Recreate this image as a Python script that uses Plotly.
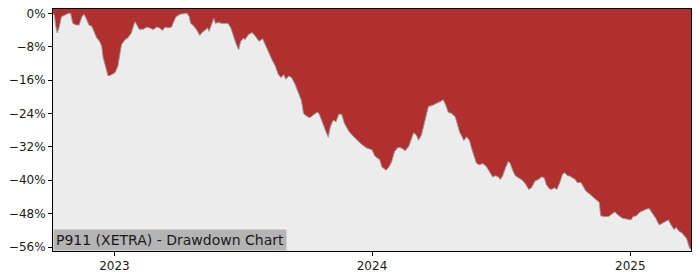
import plotly.graph_objects as go

DATES = [
    "2022-10-06", "2022-10-08", "2022-10-10", "2022-10-12", "2022-10-15", "2022-10-18", "2022-10-23",
    "2022-10-28", "2022-10-31", "2022-11-03", "2022-11-08", "2022-11-12", "2022-11-16", "2022-11-19",
    "2022-11-23", "2022-11-26", "2022-11-30", "2022-12-03", "2022-12-07", "2022-12-11", "2022-12-14",
    "2022-12-16", "2022-12-20", "2022-12-23", "2022-12-27", "2023-01-02", "2023-01-06", "2023-01-09",
    "2023-01-11", "2023-01-16", "2023-01-20", "2023-01-25", "2023-01-30", "2023-02-02", "2023-02-05",
    "2023-02-11", "2023-02-16", "2023-02-20", "2023-02-25", "2023-03-02", "2023-03-06", "2023-03-10",
    "2023-03-14", "2023-03-18", "2023-03-23", "2023-03-25", "2023-03-29", "2023-04-04", "2023-04-11",
    "2023-04-14", "2023-04-17", "2023-04-19", "2023-04-22", "2023-04-27", "2023-05-02", "2023-05-05",
    "2023-05-09", "2023-05-13", "2023-05-15", "2023-05-19", "2023-05-22", "2023-05-24", "2023-05-28",
    "2023-06-02", "2023-06-07", "2023-06-11", "2023-06-15", "2023-06-18", "2023-06-22", "2023-06-26",
    "2023-06-29", "2023-07-03", "2023-07-05", "2023-07-10", "2023-07-15", "2023-07-19", "2023-07-25",
    "2023-07-30", "2023-08-02", "2023-08-07", "2023-08-12", "2023-08-17", "2023-08-21", "2023-08-25",
    "2023-08-29", "2023-09-01", "2023-09-05", "2023-09-09", "2023-09-14", "2023-09-19", "2023-09-23",
    "2023-09-26", "2023-10-01", "2023-10-05", "2023-10-10", "2023-10-15", "2023-10-18", "2023-10-22",
    "2023-10-27", "2023-10-31", "2023-11-03", "2023-11-07", "2023-11-11", "2023-11-15", "2023-11-19",
    "2023-11-23", "2023-11-29", "2023-12-04", "2023-12-11", "2023-12-18", "2023-12-25", "2024-01-01",
    "2024-01-05", "2024-01-09", "2024-01-12", "2024-01-15", "2024-01-21", "2024-01-25", "2024-01-29",
    "2024-02-02", "2024-02-07", "2024-02-12", "2024-02-17", "2024-02-22", "2024-02-26", "2024-02-29",
    "2024-03-04", "2024-03-07", "2024-03-11", "2024-03-15", "2024-03-18", "2024-03-21", "2024-03-26",
    "2024-03-30", "2024-04-04", "2024-04-07", "2024-04-11", "2024-04-14", "2024-04-18", "2024-04-23",
    "2024-04-28", "2024-05-01", "2024-05-04", "2024-05-08", "2024-05-10", "2024-05-14", "2024-05-18",
    "2024-05-21", "2024-05-25", "2024-05-28", "2024-06-01", "2024-06-06", "2024-06-11", "2024-06-14",
    "2024-06-17", "2024-06-20", "2024-06-24", "2024-06-28", "2024-07-01", "2024-07-04", "2024-07-08",
    "2024-07-12", "2024-07-15", "2024-07-18", "2024-07-22", "2024-07-27", "2024-08-01", "2024-08-06",
    "2024-08-10", "2024-08-14", "2024-08-19", "2024-08-24", "2024-08-28", "2024-09-01", "2024-09-04",
    "2024-09-08", "2024-09-11", "2024-09-16", "2024-09-19", "2024-09-23", "2024-09-27", "2024-09-30",
    "2024-10-04", "2024-10-07", "2024-10-11", "2024-10-15", "2024-10-18", "2024-10-23", "2024-10-26",
    "2024-10-30", "2024-11-03", "2024-11-09", "2024-11-14", "2024-11-18", "2024-11-20", "2024-11-25",
    "2024-12-01", "2024-12-06", "2024-12-10", "2024-12-15", "2024-12-21", "2024-12-27", "2025-01-02",
    "2025-01-05", "2025-01-10", "2025-01-14", "2025-01-19", "2025-01-24", "2025-01-28", "2025-02-01",
    "2025-02-06", "2025-02-11", "2025-02-16", "2025-02-20", "2025-02-24", "2025-02-27", "2025-03-04",
    "2025-03-07", "2025-03-11", "2025-03-15", "2025-03-18", "2025-03-22", "2025-03-24", "2025-03-26",
    "2025-03-28",
]

DRAWDOWN_PCT = [
    0, -0.5, -3.1, -4.7, -3.1, -0.8, -0.4,
    0, 0, -2.4, -2.8, -2.8, -0.8, -0.2,
    -1.6, -2.8, -3.1, -4.3, -5.9, -6.7, -7.9,
    -10.6, -13.0, -15.0, -14.8, -14.2, -12.6, -9.5,
    -7.5, -6.3, -5.9, -4.7, -2.0, -2.8, -3.8,
    -3.8, -3.3, -3.5, -3.9, -3.3, -3.5, -4.1,
    -3.3, -3.5, -3.3, -2.4, -0.9, -0.2, 0,
    0, -0.8, -2.4, -2.8, -3.8, -5.3, -4.6,
    -4.1, -3.5, -4.3, -2.4, -1.2, -2.4, -2.2,
    -2.4, -2.4, -2.4, -3.5, -5.1, -7.1, -8.7,
    -6.7, -5.9, -6.3, -5.1, -4.6, -5.3, -6.7,
    -6.1, -7.1, -9.1, -11.0, -12.6, -14.6, -15.4,
    -14.7, -15.8, -15.0, -15.4, -17.0, -19.3, -20.9,
    -24.0, -24.7, -25.0, -24.4, -23.7, -24.0, -25.6,
    -28.0, -29.7, -27.2, -25.6, -26.0, -24.2, -24.2,
    -26.4, -28.2, -29.2, -30.4, -31.5, -32.3, -32.7,
    -34.2, -34.7, -35.1, -36.8, -37.6, -36.8, -35.5,
    -33.1, -32.1, -32.3, -32.9, -31.9, -30.0, -28.6,
    -29.2, -30.4, -29.2, -26.4, -23.7, -22.3, -22.1,
    -21.8, -21.5, -21.1, -20.7, -21.8, -23.7, -24.0,
    -24.8, -26.8, -28.4, -29.7, -30.5, -29.6, -30.4,
    -32.3, -34.3, -35.9, -36.3, -36.0, -36.7, -37.6,
    -38.2, -39.2, -38.9, -39.2, -39.8, -39.0, -37.1,
    -35.5, -36.0, -37.5, -38.9, -39.4, -40.0, -41.0,
    -42.2, -41.8, -40.2, -39.8, -39.2, -39.4, -41.0,
    -42.0, -42.2, -41.8, -42.2, -40.6, -38.5, -38.2,
    -38.9, -39.0, -39.4, -39.8, -40.6, -40.5, -41.4,
    -42.6, -43.1, -43.9, -44.6, -45.3, -48.5, -48.7,
    -48.7, -48.1, -47.6, -48.4, -49.1, -49.3, -49.5,
    -48.7, -48.5, -47.7, -47.3, -46.9, -46.8, -47.7,
    -49.1, -50.7, -50.2, -49.9, -49.5, -50.5, -51.8,
    -51.3, -52.2, -52.6, -53.1, -54.0, -55.2, -56.2,
    -56.6,
]

Y_TICKS = [0, -8, -16, -24, -32, -40, -48, -56]
X_TICKS = ["2023-01-01", "2024-01-01", "2025-01-01"]
X_TICK_LABELS = ["2023", "2024", "2025"]
TITLE = "P911 (XETRA) - Drawdown Chart"

Y_RANGE = [-56.95, 1.04]
RED = "#b03030"
BG = "#ececec"
FONT = "DejaVu Sans"


def pct_label(v):
    return ("\u2212" if v < 0 else "") + f"{abs(v)}%"


fig = go.Figure()
# invisible upper boundary at the top of the plot area
fig.add_trace(go.Scatter(
    x=DATES, y=[Y_RANGE[1]] * len(DATES), mode="lines",
    line=dict(width=0, color=RED), hoverinfo="skip", showlegend=False,
))
fig.add_trace(go.Scatter(
    x=DATES, y=DRAWDOWN_PCT, mode="lines", fill="tonexty", fillcolor=RED,
    line=dict(width=1, color="#9a9a9a"), showlegend=False,
))

fig.update_layout(
    width=700, height=280,
    margin=dict(l=53, r=9, t=7, b=28),
    plot_bgcolor=BG, paper_bgcolor="white",
    font=dict(family=FONT, size=12, color="#1a1a1a"),
    xaxis=dict(
        range=[DATES[0], DATES[-1]], tickvals=X_TICKS, ticktext=X_TICK_LABELS,
        showgrid=False, zeroline=False, showline=True, linecolor="black", linewidth=1,
        mirror=True, ticks="outside", ticklen=4, tickcolor="black",
    ),
    yaxis=dict(
        range=Y_RANGE, tickvals=Y_TICKS, ticktext=[pct_label(v) for v in Y_TICKS],
        showgrid=False, zeroline=False, showline=True, linecolor="black", linewidth=1,
        mirror=True, ticks="outside", ticklen=4, tickcolor="black",
    ),
    annotations=[dict(
        text=TITLE, xref="paper", yref="paper", x=0, y=0,
        xanchor="left", yanchor="bottom", showarrow=False,
        bgcolor="#b4b4b4", borderpad=2, font=dict(family=FONT, size=14, color="#1a1a1a"),
    )],
)

fig.write_html("out.html")
